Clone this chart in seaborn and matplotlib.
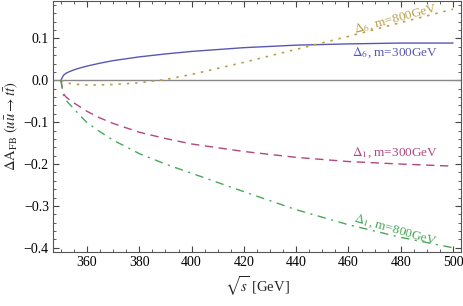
import numpy as np
import pandas as pd
import matplotlib
matplotlib.use("Agg")
import matplotlib.pyplot as plt
import seaborn as sns
from matplotlib.ticker import MultipleLocator, FuncFormatter

# =====================================================
# DATA
# =====================================================
sqrt_s = [350, 351, 352, 353, 355, 357, 360, 365, 370, 380, 390, 400,
          420, 440, 460, 480, 500]

d6_m300 = [0.0, 0.012, 0.017, 0.020, 0.025, 0.029, 0.034, 0.041, 0.047,
           0.056, 0.063, 0.069, 0.078, 0.084, 0.087, 0.089, 0.089]
d6_m800 = [0.0, -0.004, -0.006, -0.007, -0.009, -0.010, -0.011, -0.011,
           -0.010, -0.006, 0.002, 0.014, 0.043, 0.074, 0.105, 0.138, 0.170]
d1_m300 = [0.0, -0.032, -0.040, -0.045, -0.054, -0.062, -0.074, -0.090,
           -0.103, -0.124, -0.139, -0.152, -0.170, -0.184, -0.194, -0.200,
           -0.205]
d1_m800 = [0.0, -0.036, -0.047, -0.055, -0.068, -0.082, -0.101, -0.123,
           -0.143, -0.175, -0.200, -0.222, -0.266, -0.309, -0.345, -0.375,
           -0.400]

labels = [r"$\Delta_6$, m=300GeV", r"$\Delta_6$, m=800GeV",
          r"$\Delta_1$, m=300GeV", r"$\Delta_1$, m=800GeV"]

# =====================================================
# STYLE
# =====================================================
sns.set_theme(style="ticks")
plt.rcParams["font.family"] = ["Liberation Serif", "DejaVu Serif"]
plt.rcParams["mathtext.fontset"] = "stix"
plt.rcParams["axes.unicode_minus"] = True

blue = "#5858b4"
gold = "#b8a048"
pink = "#b04880"
green = "#48a858"

fig = plt.figure(figsize=(4.63, 3.06), dpi=100)
ax = fig.add_axes([0.1145, 0.1765, 0.881, 0.821])

df = pd.DataFrame({"s": sqrt_s, "d6_300": d6_m300, "d6_800": d6_m800,
                   "d1_300": d1_m300, "d1_800": d1_m800})

ax.axhline(0, color="#888888", lw=1.0, zorder=1)

sns.lineplot(data=df, x="s", y="d6_300", ax=ax, color=blue, lw=1.0)
sns.lineplot(data=df, x="s", y="d6_800", ax=ax, color=gold, lw=1.2,
             linestyle=(0, (1.5, 3.5)))
sns.lineplot(data=df, x="s", y="d1_300", ax=ax, color=pink, lw=1.0,
             linestyle=(0, (6, 4)))
sns.lineplot(data=df, x="s", y="d1_800", ax=ax, color=green, lw=1.0,
             linestyle=(0, (6, 4, 1.5, 4)))

# =====================================================
# CURVE LABELS
# =====================================================
ax.text(478, 0.148, labels[1], color=gold, fontsize=9.5, rotation=15,
        ha="center", va="center")
ax.text(478, 0.067, labels[0], color=blue, fontsize=9.5,
        ha="center", va="center")
ax.text(478, -0.174, labels[2], color=pink, fontsize=9.5,
        ha="center", va="center")
ax.text(478, -0.357, labels[3], color=green, fontsize=9.5, rotation=-16,
        ha="center", va="center")

# =====================================================
# AXES
# =====================================================
ax.set_xlim(347, 503)
ax.set_ylim(-0.41, 0.19)
ax.xaxis.set_major_locator(MultipleLocator(20))
ax.xaxis.set_minor_locator(MultipleLocator(5))
ax.yaxis.set_major_locator(MultipleLocator(0.1))
ax.yaxis.set_minor_locator(MultipleLocator(0.02))
ax.yaxis.set_major_formatter(FuncFormatter(lambda v, p: f"{v:.1f}".replace("-", "\u2212")))

ax.tick_params(which="both", direction="in", top=True, right=True,
               colors="#444444", labelcolor="black", labelsize=10, pad=3)
ax.tick_params(which="major", length=4.5, width=0.8)
ax.tick_params(which="minor", length=2.5, width=0.6)
for sp in ax.spines.values():
    sp.set_color("#555555")
    sp.set_linewidth(0.8)

ax.set_xlabel(r"$\sqrt{s}$ [GeV]", fontsize=10.5, labelpad=4)
ax.set_ylabel(r"$\Delta \mathrm{A}_{\mathrm{FB}}\ (u\bar{u}\to t\bar{t})$",
              fontsize=10.5, labelpad=2)

plt.savefig("out.png", dpi=100)
